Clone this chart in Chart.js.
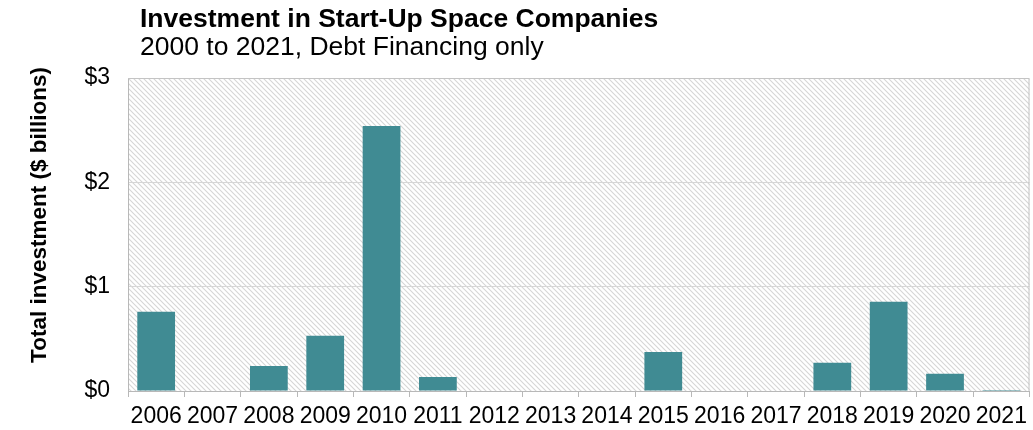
<!DOCTYPE html>
<html>
<head>
<meta charset="utf-8">
<script src="https://cdn.jsdelivr.net/npm/chart.js@4/dist/chart.umd.min.js"></script>
<style>
  body { margin: 0; background: #fff; }
  #wrap { width: 1033px; height: 430px; }
</style>
</head>
<body>
<div id="wrap"><canvas id="grafico" width="1033" height="430"></canvas></div>
<script>
const years = ["2006", "2007", "2008", "2009", "2010", "2011", "2012", "2013",
               "2014", "2015", "2016", "2017", "2018", "2019", "2020", "2021"];
const debt = [0.76, 0, 0.24, 0.53, 2.54, 0.135, 0, 0, 0, 0.375, 0, 0, 0.27, 0.855, 0.165, 0.01];
const yTicks = [0, 1, 2, 3];

const FONT = "'Liberation Sans', Arial, Helvetica, sans-serif";

// diagonal hatch tile for the plot background
function hatch() {
  const c = document.createElement("canvas");
  c.width = 5; c.height = 5;
  const g = c.getContext("2d");
  g.strokeStyle = "#d6d6d6";
  g.lineWidth = 1.1;
  g.beginPath();
  g.moveTo(-1, -1); g.lineTo(6, 6);
  g.moveTo(-1, 4); g.lineTo(1, 6);
  g.moveTo(4, -1); g.lineTo(6, 1);
  g.stroke();
  return c;
}

const fondo = {
  id: "fondo",
  beforeDraw(chart) {
    const { ctx, chartArea: a } = chart;
    ctx.save();
    ctx.fillStyle = ctx.createPattern(hatch(), "repeat");
    ctx.fillRect(a.left, a.top, a.right - a.left, a.bottom - a.top);
    ctx.restore();
  },
  afterDraw(chart) {
    const { ctx, chartArea: a } = chart;
    ctx.save();
    ctx.strokeStyle = "#c4c4c4";
    ctx.lineWidth = 1;
    ctx.beginPath();
    ctx.moveTo(a.left, a.top + 0.5); ctx.lineTo(a.right - 0.5, a.top + 0.5);
    ctx.lineTo(a.right - 0.5, a.bottom);
    ctx.stroke();

    ctx.fillStyle = "#000";
    ctx.textBaseline = "alphabetic";
    ctx.textAlign = "left";
    ctx.font = "bold 26.5px " + FONT;
    ctx.fillText("Investment in Start-Up Space Companies", 140, 27);
    ctx.font = "26.5px " + FONT;
    ctx.fillText("2000 to 2021, Debt Financing only", 140, 55);

    ctx.translate(46, 215);
    ctx.rotate(-Math.PI / 2);
    ctx.textAlign = "center";
    ctx.font = "bold 22.5px " + FONT;
    ctx.fillText("Total investment ($ billions)", 0, 0);
    ctx.restore();
  }
};

new Chart(document.getElementById("grafico"), {
  type: "bar",
  data: {
    labels: years,
    datasets: [{
      data: debt,
      backgroundColor: "#408b93",
      barPercentage: 0.67,
      categoryPercentage: 1
    }]
  },
  options: {
    responsive: false,
    animation: false,
    layout: { padding: { top: 78, right: 2, left: 0, bottom: 0 } },
    plugins: { legend: { display: false }, tooltip: { enabled: false } },
    scales: {
      x: {
        afterFit: s => { s.height = 39; },
        grid: { drawOnChartArea: false, tickLength: 6, color: "#b8b8b8", offset: true },
        border: { color: "#b8b8b8" },
        ticks: { color: "#000", font: { family: FONT, size: 23 }, padding: 6, maxRotation: 0, autoSkip: false }
      },
      y: {
        min: 0,
        max: 3,
        afterFit: s => { s.width = 128; },
        afterBuildTicks: s => { s.ticks = yTicks.map(v => ({ value: v })); },
        grid: { color: "#d6d6d6", drawTicks: false },
        border: { color: "#b8b8b8" },
        ticks: {
          color: "#000",
          font: { family: FONT, size: 23 },
          padding: 18,
          callback: v => "$" + v
        }
      }
    }
  },
  plugins: [fondo]
});
</script>
</body>
</html>
